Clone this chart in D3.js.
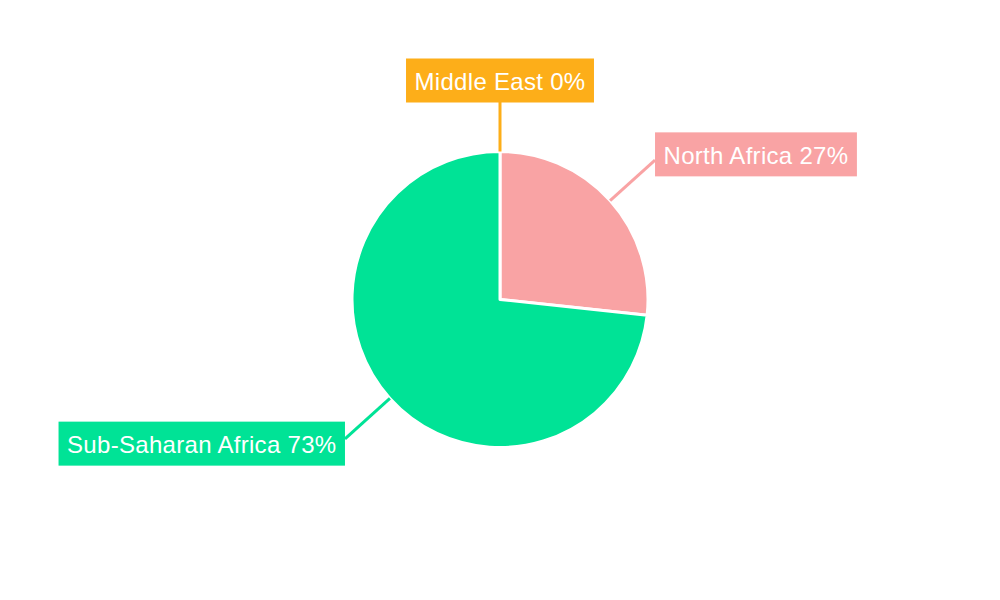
<!DOCTYPE html>
<html lang="en">
<head>
<meta charset="UTF-8">
<title>Regional share</title>
<script src="https://d3js.org/d3.v7.min.js"></script>
<style>
  body { margin: 0; background: #fff; }
  svg { display: block; }
</style>
</head>
<body>
<svg id="chart" width="1000" height="600"></svg>
<script>
// data
var regions = ["Middle East", "North Africa", "Sub-Saharan Africa"];
var shares = [0, 26.7, 73.3];
var colors = ["#FDAE19", "#F9A3A4", "#00E396"];

var width = 1000, height = 600;
var cx = 500, cy = 299.5, radius = 148;

var svg = d3.select("#chart");
var g = svg.append("g").attr("transform", "translate(" + cx + "," + cy + ")");

var data = regions.map(function(r, i) { return { name: r, value: shares[i], color: colors[i] }; });
var total = d3.sum(shares);

var pie = d3.pie().sort(null).value(function(d) { return d.value; });
var arc = d3.arc().innerRadius(0).outerRadius(radius);
var arcs = pie(data);

g.selectAll("path.slice")
  .data(arcs)
  .enter()
  .append("path")
  .attr("class", "slice")
  .attr("d", arc)
  .attr("fill", function(d) { return d.data.color; })
  .attr("stroke", "#fff")
  .attr("stroke-width", 3)
  .attr("stroke-linejoin", "round");

function polar(r, a) { return [r * Math.sin(a), -r * Math.cos(a)]; }

var labels = g.selectAll("g.label")
  .data(arcs)
  .enter()
  .append("g")
  .attr("class", "label");

labels.each(function(d) {
  var sel = d3.select(this);
  var mid = (d.startAngle + d.endAngle) / 2;
  var rl = 198 + 14 * Math.abs(Math.sin(mid));
  var p0 = polar(radius, mid), p1 = polar(rl, mid);

  sel.append("line")
    .attr("x1", p0[0]).attr("y1", p0[1])
    .attr("x2", p1[0]).attr("y2", p1[1])
    .attr("stroke", d.data.color)
    .attr("stroke-width", 3);

  var pct = Math.round(d.data.value / total * 100);
  var rect = sel.append("rect").attr("fill", d.data.color);
  var txt = sel.append("text")
    .attr("fill", "#fff")
    .attr("font-family", "'Liberation Sans', Arial, sans-serif")
    .attr("font-size", 24)
    .attr("letter-spacing", 0.3)
    .attr("text-anchor", "middle")
    .attr("dominant-baseline", "central")
    .text(d.data.name + " " + pct + "%");

  var tw = txt.node().getComputedTextLength();
  var bw = tw + 17, bh = 44;
  var bx, by;
  var s = Math.sin(mid);
  if (Math.abs(s) < 0.2) {
    bx = p1[0] - bw / 2; by = p1[1] - bh + 1;
  } else {
    bx = s > 0 ? p1[0] : p1[0] - bw;
    by = p1[1] - bh / 2 - Math.cos(mid) * 8 - 0.5;
  }
  rect.attr("x", bx).attr("y", by).attr("width", bw).attr("height", bh);
  txt.attr("x", bx + bw / 2).attr("y", by + bh / 2 + 1);
});
</script>
</body>
</html>
